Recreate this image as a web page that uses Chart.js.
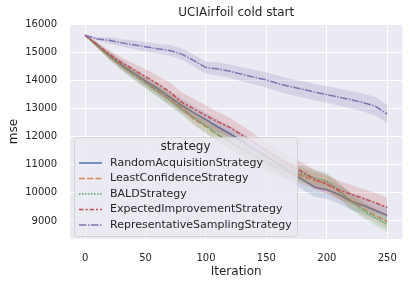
<!DOCTYPE html>
<html>
<head>
<meta charset="utf-8">
<script src="https://cdn.jsdelivr.net/npm/chart.js@4.4.1/dist/chart.umd.min.js"></script>
<style>
  html, body { margin: 0; padding: 0; background: #ffffff; }
</style>
</head>
<body>
<canvas id="airfoil" width="410" height="284"></canvas>
<script>
// values
const iterations = [0, 10, 20, 30, 40, 50, 60, 70, 80, 90, 100, 110, 120, 130, 140, 150, 160, 170, 180, 190, 200, 210, 220, 230, 240, 250];
const xTicks = [0, 50, 100, 150, 200, 250];
const yTicks = [9000, 10000, 11000, 12000, 13000, 14000, 15000, 16000];
const strategies = ['RandomAcquisitionStrategy', 'LeastConfidenceStrategy', 'BALDStrategy', 'ExpectedImprovementStrategy', 'RepresentativeSamplingStrategy'];

const randomMse = [15600, 15250, 14880, 14560, 14260, 13980, 13700, 13400, 13110, 12840, 12600, 12340, 12100, 11830, 11560, 11300, 11020, 10720, 10470, 10200, 10110, 9940, 9700, 9560, 9380, 9200];
const leastConfMse = [15600, 15240, 14860, 14520, 14210, 13920, 13620, 13330, 13030, 12620, 12350, 12060, 11800, 11540, 11300, 11080, 10880, 10720, 10600, 10440, 10350, 10050, 9720, 9440, 9200, 8980];
const baldMse = [15600, 15230, 14850, 14510, 14200, 13900, 13600, 13300, 12980, 12680, 12380, 12060, 11800, 11540, 11300, 11090, 10910, 10770, 10660, 10530, 10420, 10080, 9700, 9380, 9120, 8870];
const expImpMse = [15600, 15270, 14930, 14640, 14380, 14130, 13870, 13590, 13220, 12980, 12740, 12520, 12320, 12050, 11770, 11500, 11220, 10950, 10740, 10480, 10300, 10100, 9950, 9800, 9650, 9480];
const reprMse = [15600, 15470, 15420, 15330, 15260, 15190, 15120, 15060, 14930, 14700, 14450, 14400, 14320, 14210, 14110, 14010, 13880, 13770, 13680, 13580, 13490, 13400, 13310, 13210, 13080, 12800];

// half width of the confidence bands
const randomCi = [20, 90, 130, 160, 180, 200, 210, 220, 230, 240, 250, 260, 270, 280, 290, 300, 320, 340, 350, 340, 330, 320, 310, 300, 300, 300];
const leastConfCi = [20, 80, 120, 150, 170, 190, 200, 210, 220, 230, 240, 250, 260, 270, 280, 290, 300, 300, 300, 290, 280, 280, 270, 260, 250, 240];
const baldCi = [20, 80, 120, 150, 170, 190, 200, 210, 220, 230, 240, 250, 260, 270, 280, 290, 300, 300, 300, 290, 290, 280, 280, 270, 260, 250];
const expImpCi = [20, 90, 140, 180, 220, 260, 300, 330, 350, 360, 360, 350, 340, 330, 320, 320, 320, 320, 330, 330, 330, 330, 340, 340, 350, 350];
const reprCi = [20, 70, 110, 130, 150, 170, 180, 190, 200, 210, 220, 230, 240, 250, 260, 270, 280, 280, 290, 290, 300, 300, 310, 320, 330, 330];

const seriesMse = [randomMse, leastConfMse, baldMse, expImpMse, reprMse];
const seriesCi = [randomCi, leastConfCi, baldCi, expImpCi, reprCi];
const colors = [[76, 114, 176], [221, 132, 82], [85, 168, 104], [196, 78, 82], [129, 114, 179]];
const dashes = [[], [6, 2.25], [1.5, 1.5], [4.5, 1.9, 2.25, 1.9], [7.5, 1.5, 1.5, 1.5]];

const rgba = (c, a) => `rgba(${c[0]},${c[1]},${c[2]},${a})`;
const pts = arr => arr.map((v, i) => ({x: iterations[i], y: v}));

const datasets = [];
strategies.forEach((name, k) => {
  const mse = seriesMse[k], ci = seriesCi[k];
  datasets.push({
    label: name, data: pts(mse), borderColor: rgba(colors[k], 1), borderWidth: 1.5,
    borderDash: dashes[k], pointRadius: 0, fill: false, order: 10 - 2 * k, isMain: true
  });
  datasets.push({
    label: name + ' upper', data: pts(mse.map((v, i) => v + ci[i])), borderWidth: 0,
    pointRadius: 0, fill: '+1', backgroundColor: rgba(colors[k], 0.2), order: 11 - 2 * k
  });
  datasets.push({
    label: name + ' lower', data: pts(mse.map((v, i) => v - ci[i])), borderWidth: 0,
    pointRadius: 0, fill: false, order: 11 - 2 * k
  });
});

const txt = '#262626';

const bgPlugin = {
  id: 'bg',
  beforeDraw(chart) {
    const {ctx, chartArea: a} = chart;
    ctx.save();
    ctx.fillStyle = '#eaeaf2';
    ctx.fillRect(a.left, a.top, a.right - a.left, a.bottom - a.top);
    // title centred over the plot area
    ctx.fillStyle = txt;
    ctx.font = '12px "DejaVu Sans"';
    ctx.textAlign = 'center';
    ctx.textBaseline = 'middle';
    ctx.fillText('UCIAirfoil cold start', (a.left + a.right) / 2, 12.5);
    ctx.restore();
  }
};

const legendPlugin = {
  id: 'innerLegend',
  afterDraw(chart) {
    const ctx = chart.ctx;
    const x0 = 74, y0 = 137, w = 223, h = 99;
    ctx.save();
    ctx.beginPath();
    ctx.roundRect(x0 + 0.5, y0 + 0.5, w, h, 3);
    ctx.fillStyle = 'rgba(234,234,242,0.8)';
    ctx.fill();
    ctx.strokeStyle = 'rgba(204,204,204,0.8)';
    ctx.lineWidth = 1;
    ctx.stroke();
    ctx.fillStyle = txt;
    ctx.textBaseline = 'middle';
    ctx.textAlign = 'center';
    ctx.font = '12px "DejaVu Sans"';
    ctx.fillText('strategy', x0 + w / 2, 147);
    ctx.textAlign = 'left';
    ctx.font = '11px "DejaVu Sans"';
    chart.data.datasets.filter(d => d.isMain).forEach((d, i) => {
      const y = 163 + i * 15.5;
      ctx.beginPath();
      ctx.setLineDash(d.borderDash);
      ctx.strokeStyle = d.borderColor;
      ctx.lineWidth = 1.5;
      ctx.moveTo(79, y);
      ctx.lineTo(102, y);
      ctx.stroke();
      ctx.setLineDash([]);
      ctx.fillText(d.label, 110, y);
    });
    ctx.restore();
  }
};

new Chart(document.getElementById('airfoil'), {
  type: 'line',
  data: {datasets},
  options: {
    responsive: false,
    animation: false,
    layout: {padding: {left: 0, right: 4, top: 24, bottom: 0}},
    plugins: {
      legend: {display: false},
      tooltip: {enabled: false},
      title: {display: false},
      filler: {propagate: false}
    },
    scales: {
      x: {
        type: 'linear', min: -12.5, max: 262.5,
        afterBuildTicks: s => { s.ticks = xTicks.map(v => ({value: v})); },
        afterFit: s => { s.height = 45; },
        grid: {color: '#ffffff', lineWidth: 1, drawTicks: false},
        border: {display: false},
        ticks: {color: txt, font: {family: 'DejaVu Sans', size: 10}, padding: 13, maxRotation: 0,
          callback: v => String(v)},
        title: {display: true, text: 'Iteration', color: txt, font: {family: 'DejaVu Sans', size: 12}, padding: {top: 0, bottom: 5}}
      },
      y: {
        type: 'linear', min: 8360, max: 16000,
        afterBuildTicks: s => { s.ticks = yTicks.map(v => ({value: v})); },
        afterFit: s => { s.width = 70; },
        grid: {color: '#ffffff', lineWidth: 1, drawTicks: false},
        border: {display: false},
        ticks: {color: txt, font: {family: 'DejaVu Sans', size: 10}, padding: 13,
          callback: v => String(v)},
        title: {display: true, text: 'mse', color: txt, font: {family: 'DejaVu Sans', size: 12}, padding: {top: 7, bottom: 0}}
      }
    }
  },
  plugins: [bgPlugin, legendPlugin]
});
</script>
</body>
</html>
